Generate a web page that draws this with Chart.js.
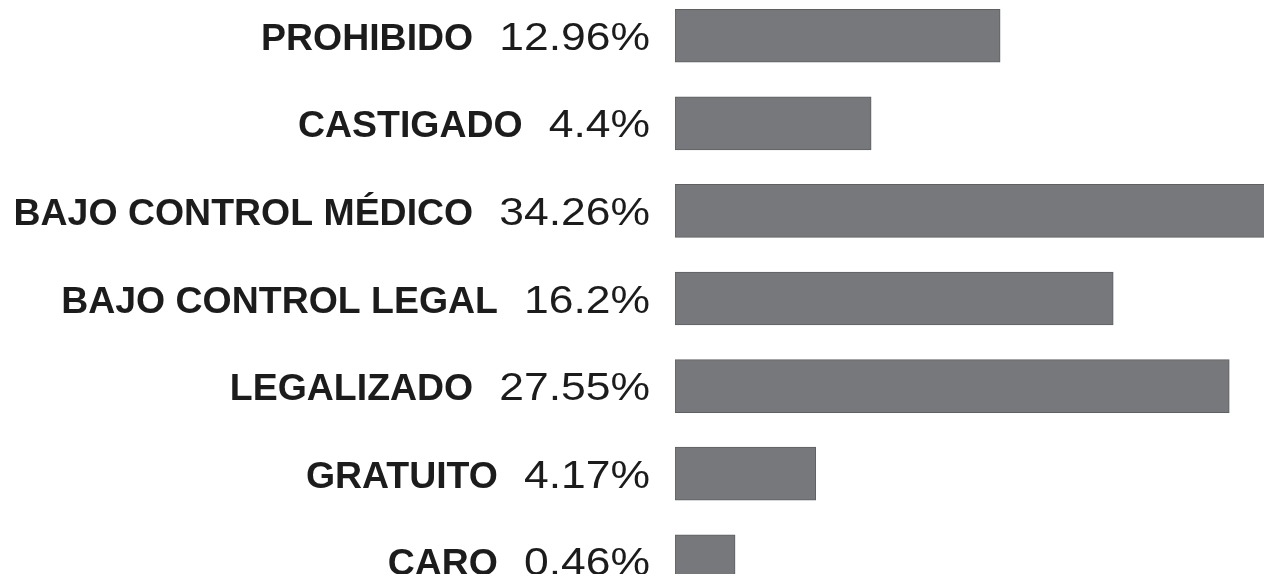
<!DOCTYPE html>
<html>
<head>
<meta charset="utf-8">
<script src="https://cdn.jsdelivr.net/npm/chart.js@4"></script>
<style>
  html, body { margin: 0; padding: 0; background: #ffffff; overflow: hidden; width: 1264px; height: 574px; }
  #wrap { position: absolute; left: 0; top: -8px; width: 1264px; height: 613px; }
</style>
</head>
<body>
<div id="wrap"><canvas id="grafico"></canvas></div>
<script>
// Categorias y porcentajes (texto de las etiquetas)
const categorias = ["PROHIBIDO", "CASTIGADO", "BAJO CONTROL MÉDICO", "BAJO CONTROL LEGAL", "LEGALIZADO", "GRATUITO", "CARO"];
const porcentajes = ["12.96%", "4.4%", "34.26%", "16.2%", "27.55%", "4.17%", "0.46%"];
// Largo de cada barra (0-100 = ancho del panel de barras)
const largoBarras = [55.2, 33.3, 102, 74.4, 94.1, 23.9, 10.2];

const grafico = document.getElementById("grafico");

// dibuja la etiqueta en negrita + el porcentaje a la izquierda de cada barra
const etiquetas = {
  id: "etiquetas",
  afterDatasetsDraw(chart) {
    const ctx = chart.ctx;
    const y = chart.scales.y;
    const derecha = 650;
    ctx.save();
    ctx.fillStyle = "#1c1c1c";
    ctx.textBaseline = "alphabetic";
    categorias.forEach((cat, i) => {
      const cy = y.getPixelForValue(i) + 14;
      // porcentaje (regular, estirado)
      ctx.font = "38px 'Liberation Sans', Arial, sans-serif";
      const sxP = 1.17;
      const wP = ctx.measureText(porcentajes[i]).width * sxP;
      ctx.save();
      ctx.translate(derecha - wP, cy);
      ctx.scale(sxP, 1);
      ctx.fillText(porcentajes[i], 0, 0);
      ctx.restore();
      // categoria (negrita)
      ctx.font = "bold 36px 'Liberation Sans', Arial, sans-serif";
      const sxC = 1.04;
      const wC = ctx.measureText(cat).width * sxC;
      ctx.save();
      ctx.translate(derecha - wP - 26 - wC, cy);
      ctx.scale(sxC, 1);
      ctx.fillText(cat, 0, 0);
      ctx.restore();
    });
    ctx.restore();
  }
};

new Chart(grafico, {
  type: "bar",
  data: {
    labels: categorias,
    datasets: [
      {
        data: largoBarras,
        backgroundColor: "#77787c",
        borderColor: "#5e5f62",
        borderWidth: 1,
        borderSkipped: false,
        barThickness: 53,
      },
    ],
  },
  options: {
    indexAxis: "y",
    responsive: true,
    maintainAspectRatio: false,
    animation: false,
    layout: {
      padding: { left: 675, right: 0, top: 0, bottom: 0 },
    },
    scales: {
      x: { display: false, min: 0, max: 100 },
      y: { display: false },
    },
    plugins: {
      legend: { display: false },
      tooltip: { enabled: false },
    },
  },
  plugins: [etiquetas],
});
</script>
</body>
</html>
